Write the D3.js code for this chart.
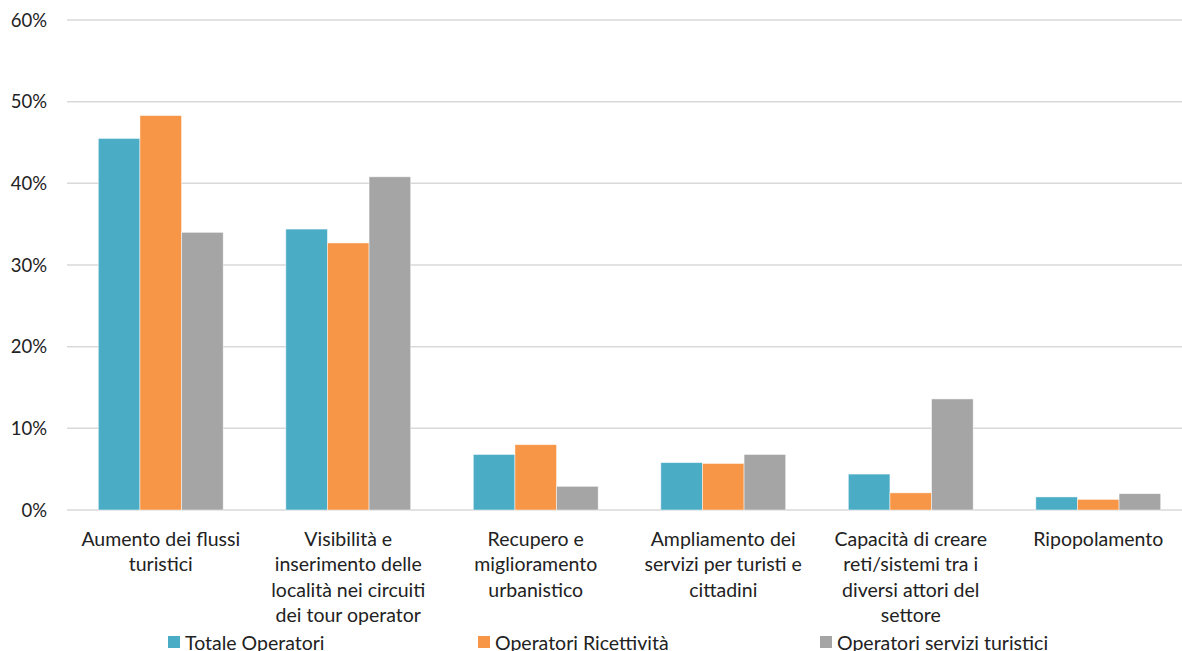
<!DOCTYPE html>
<html>
<head>
<meta charset="utf-8">
<script src="https://cdn.jsdelivr.net/npm/d3@7"></script>
<style>
  body { margin: 0; background: #fff; overflow: hidden; }
  text { font-family: Lato, "Liberation Sans", sans-serif; fill: #222; }
</style>
</head>
<body>
<div id="container"></div>
<script>
const categories = [
  ["Aumento dei flussi", "turistici"],
  ["Visibilità e", "inserimento delle", "località nei circuiti", "dei tour operator"],
  ["Recupero e", "miglioramento", "urbanistico"],
  ["Ampliamento dei", "servizi per turisti e", "cittadini"],
  ["Capacità di creare", "reti/sistemi tra i", "diversi attori del", "settore"],
  ["Ripopolamento"]
];
const seriesNames = ["Totale Operatori", "Operatori Ricettività", "Operatori servizi turistici"];
const totale = [45.5, 34.4, 6.8, 5.8, 4.4, 1.6];
const ricettivita = [48.3, 32.7, 8.0, 5.7, 2.1, 1.3];
const serviziTuristici = [34.0, 40.8, 2.9, 6.8, 13.6, 2.0];
const yTicks = [0, 10, 20, 30, 40, 50, 60];
const colors = ["#4BACC6", "#F79646", "#A5A5A5"];

const w = 1182;
const h = 651;
const plotLeft = 67;
const plotRight = 1192;
const plotTop = 20;
const plotBottom = 510;

const seriesValues = [totale, ricettivita, serviziTuristici];

const svg = d3.select("#container")
  .append("svg")
  .attr("width", w)
  .attr("height", h);

const x0 = d3.scaleBand()
  .domain(d3.range(categories.length))
  .range([plotLeft, plotRight])
  .padding(0);

const bw = x0.bandwidth();
const x1 = d3.scaleBand()
  .domain(d3.range(seriesNames.length))
  .range([bw * 0.167, bw * 0.833])
  .padding(0);

const y = d3.scaleLinear()
  .domain([0, 60])
  .range([plotBottom, plotTop]);

// gridlines
svg.append("g")
  .selectAll("line")
  .data(yTicks)
  .enter()
  .append("line")
  .attr("x1", plotLeft)
  .attr("x2", plotRight)
  .attr("y1", d => y(d))
  .attr("y2", d => y(d))
  .attr("stroke", "#D9D9D9")
  .attr("stroke-width", 1.5);

// y labels
svg.append("g")
  .selectAll("text")
  .data(yTicks)
  .enter()
  .append("text")
  .attr("x", 47)
  .attr("y", d => y(d) + 6.5)
  .attr("text-anchor", "end")
  .attr("font-size", 18.5)
  .text(d => d + "%");

// bars
const groups = svg.append("g")
  .selectAll("g")
  .data(categories)
  .enter()
  .append("g")
  .attr("transform", (d, i) => `translate(${x0(i)},0)`);

groups.selectAll("rect")
  .data((d, i) => seriesValues.map((s, j) => ({ j, v: s[i] })))
  .enter()
  .append("rect")
  .attr("x", d => x1(d.j))
  .attr("width", x1.bandwidth())
  .attr("y", d => y(d.v))
  .attr("height", d => y(0) - y(d.v))
  .attr("fill", d => colors[d.j])
  .attr("stroke", "#fff")
  .attr("stroke-opacity", 0.6)
  .attr("stroke-width", 0.8);

// category labels
const labels = svg.append("g")
  .selectAll("text")
  .data(categories)
  .enter()
  .append("text")
  .attr("text-anchor", "middle")
  .attr("font-size", 19.5);

labels.selectAll("tspan")
  .data((d, i) => d.map(line => ({ line, i })))
  .enter()
  .append("tspan")
  .attr("x", d => x0(d.i) + bw / 2)
  .attr("y", (d, k) => 546 + k * 25.4)
  .text(d => d.line);

// legend
const legendX = [168, 478, 820];
const legend = svg.append("g")
  .selectAll("g")
  .data(seriesNames)
  .enter()
  .append("g")
  .attr("transform", (d, i) => `translate(${legendX[i]},0)`);

legend.append("rect")
  .attr("x", 0)
  .attr("y", 636)
  .attr("width", 12)
  .attr("height", 12)
  .attr("fill", (d, i) => colors[i]);

legend.append("text")
  .attr("x", 17)
  .attr("y", 650)
  .attr("font-size", 19.5)
  .text(d => d);
</script>
</body>
</html>
